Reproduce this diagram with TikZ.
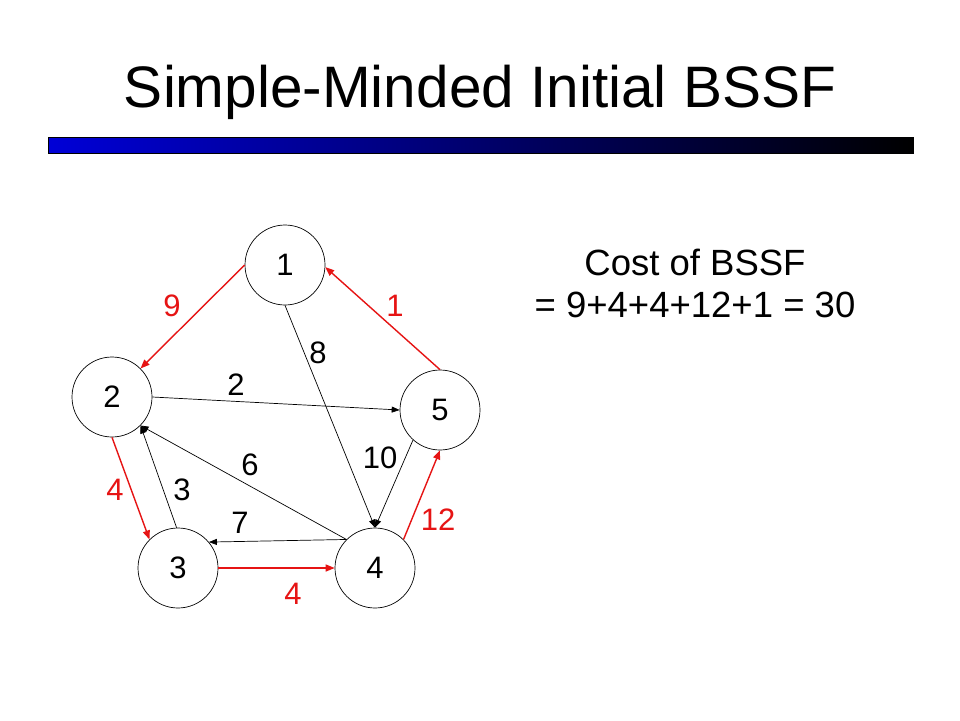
\documentclass[tikz,border=0pt]{standalone}
\usepackage{fontspec}
\setmainfont{Liberation Sans}
\usetikzlibrary{arrows.meta}
\definecolor{barblue}{RGB}{0,0,215}
\definecolor{arrred}{RGB}{230,20,20}
\begin{document}
\begin{tikzpicture}[x=1pt,y=-1pt,
  vtx/.style={circle,draw=black,line width=0.7pt,minimum size=80pt,inner sep=0pt,font=\fontsize{31}{34}\selectfont},
  lbl/.style={font=\fontsize{31}{34}\selectfont,inner sep=0pt},
  rlbl/.style={lbl,text=arrred},
  blk/.style={draw=black,line width=0.7pt,-{Triangle[length=8pt,width=6pt]}},
  red/.style={draw=arrred,line width=1.4pt,-{Triangle[length=9pt,width=7pt]}}]
\fill[white] (0,0) rectangle (960,720);
\useasboundingbox (0,0) rectangle (960,720);
% title
\node[inner sep=0pt,font=\fontsize{58.5}{62}\selectfont] (title) at (480,92) {Simple-Minded Initial BSSF};
\shade[left color=barblue,right color=black,draw=black,line width=0.8pt] (48,137) rectangle (913,153);
% cost text
\node[inner sep=0pt,font=\fontsize{36.5}{40}\selectfont] (cost1) at (695,262) {Cost of BSSF};
\node[inner sep=0pt,font=\fontsize{36.5}{40}\selectfont] (cost2) at (695,305) {= 9+4+4+12+1 = 30};
% vertices
\node[vtx] (n1) at (285,265) {1};
\node[vtx] (n2) at (112,397) {2};
\node[vtx] (n5) at (440,410) {5};
\node[vtx] (n3) at (178,568) {3};
\node[vtx] (n4) at (375,568) {4};
% black edges
\draw[blk] (n1.270) -- (n4.90);
\draw[blk] (n2.0) -- (n5.180);
\draw[blk] (n4.135) -- (n2.-45);
\draw[blk] (n3.92) -- (n2.-45);
\draw[blk] (n4.135) -- (n3.40);
\draw[blk] (n5.-132) -- (n4.90);
% red edges
\draw[red] (n1.180) -- (n2.45);
\draw[red] (n5.90) -- (n1.-3);
\draw[red] (n2.270) -- (n3.135);
\draw[red] (n3.0) -- (n4.180);
\draw[red] (n4.45) -- (n5.270);
% labels
\node[rlbl] (l12) at (172,306) {9};
\node[rlbl] (l51) at (395,306) {1};
\node[lbl] (l14) at (318,353) {8};
\node[lbl] (l25) at (236,385) {2};
\node[lbl] (l54) at (380,458) {10};
\node[lbl] (l42) at (250,465) {6};
\node[lbl] (l32) at (182,490) {3};
\node[rlbl] (l23) at (115,490) {4};
\node[lbl] (l43) at (240,523) {7};
\node[rlbl] (l45) at (438,520) {12};
\node[rlbl] (l34) at (293,594) {4};
\end{tikzpicture}
\end{document}
